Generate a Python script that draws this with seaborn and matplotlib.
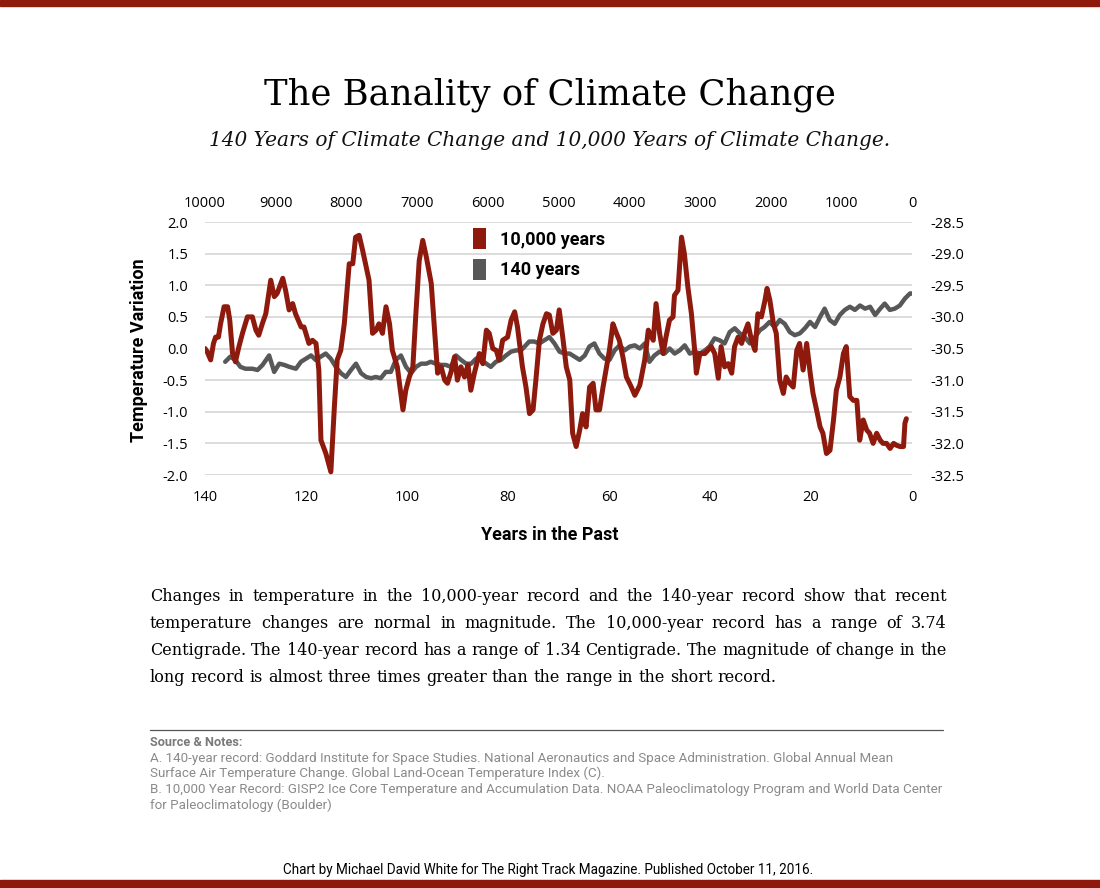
import matplotlib
matplotlib.use("Agg")
import pandas as pd
import matplotlib.pyplot as plt
import seaborn as sns
from matplotlib.patches import Patch, Rectangle
from matplotlib.lines import Line2D

# 10,000-year record (GISP2 ice core): years before present, temperature (C)
long_years = [10000, 9970, 9920, 9880, 9850, 9810, 9780, 9730, 9680, 9650, 9610, 9570, 9520, 9470, 9400,
              9330, 9280, 9240, 9190, 9140, 9070, 9020, 8980, 8900, 8860, 8810, 8760, 8720, 8640, 8600,
              8530, 8480, 8430, 8390, 8360, 8290, 8220, 8170, 8130, 8080, 8030, 7960, 7910, 7870, 7820,
              7770, 7720, 7680, 7630, 7580, 7540, 7490, 7440, 7390, 7350, 7280, 7200, 7160, 7110, 7060,
              7020, 6970, 6920, 6870, 6800, 6760, 6710, 6660, 6610, 6570, 6520, 6470, 6430, 6380, 6330,
              6280, 6240, 6190, 6120, 6070, 6020, 5980, 5930, 5880, 5840, 5790, 5720, 5670, 5620, 5580,
              5510, 5460, 5410, 5360, 5320,
              5270, 5220, 5170, 5130, 5080, 5030, 4990, 4940, 4890, 4840,
              4800, 4750, 4700, 4660, 4610, 4560, 4510, 4470, 4420, 4370,
              4320, 4280, 4230, 4180, 4140, 4090, 4040, 3970, 3920, 3850,
              3780, 3730, 3660, 3620, 3570, 3520, 3480, 3430, 3380, 3360,
              3310, 3260, 3220, 3170, 3120, 3070, 3050, 3000, 2930, 2890,
              2840, 2790, 2740, 2700, 2650, 2600, 2550, 2510, 2460, 2410,
              2370, 2320, 2270, 2220, 2180, 2130, 2080, 2050, 2010, 1960,
              1920, 1870, 1820, 1780, 1730, 1680, 1630, 1590, 1540, 1490,
              1440, 1400, 1350, 1300, 1260, 1210, 1160, 1110, 1070, 1020,
              970, 930, 880, 830, 780, 740, 690, 640, 600, 550,
              500, 450, 410, 360, 310, 260, 220, 170, 120, 100, 80]
long_temp = [-30.50, -30.55, -30.68, -30.42, -30.32, -30.32, -30.11, -29.84, -29.84, -30.05, -30.58, -30.71,
             -30.47, -30.26, -30.00, -30.00, -30.21, -30.29, -30.11, -29.95, -29.42, -29.68, -29.63, -29.39,
             -29.58, -29.89, -29.79, -29.95, -30.16, -30.16, -30.42, -30.37, -30.42, -30.84, -31.95, -32.16,
             -32.45, -31.42, -30.68, -30.53, -30.11, -29.16, -29.16, -28.74, -28.71, -28.95, -29.21, -29.42,
             -30.26, -30.21, -30.11, -30.26, -29.84, -30.11, -30.53, -30.79, -31.47, -31.16, -30.95, -30.79,
             -30.00, -29.11, -28.79, -29.05, -29.47, -30.11, -30.89, -30.79, -31.00, -31.05, -30.87, -30.63,
             -31.00, -30.79, -30.95, -30.76, -31.16, -30.89, -30.58, -30.74, -30.21, -30.26, -30.50, -30.53,
             -30.68, -30.37, -30.32, -30.05, -29.92, -30.16, -30.79, -31.11, -31.53, -31.47, -31.00,
             -30.37, -30.11, -29.95, -29.97, -30.26, -30.21, -29.89, -30.32, -30.79, -31.00,
             -31.84, -32.05, -31.79, -31.53, -31.74, -31.11, -31.05, -31.47, -31.47, -31.11,
             -30.79, -30.53, -30.11, -30.26, -30.37, -30.63, -30.95, -31.11, -31.24, -31.08,
             -30.68, -30.21, -30.37, -29.79, -30.26, -30.58, -30.32, -30.05, -30.00, -29.66,
             -29.58, -28.74, -29.00, -29.53, -29.95, -30.58, -30.89, -30.58, -30.58, -30.53,
             -30.47, -30.58, -30.97, -30.47, -30.79, -30.74, -30.89, -30.47, -30.32, -30.42,
             -30.26, -30.11, -30.37, -30.53, -29.95, -30.00, -29.74, -29.55, -29.74, -30.11,
             -30.26, -31.00, -31.21, -30.95, -31.05, -31.11, -30.53, -30.42, -30.84, -30.42,
             -30.89, -31.21, -31.47, -31.74, -31.84, -32.16, -32.11, -31.63, -31.16, -30.95,
             -30.58, -30.47, -31.26, -31.32, -31.32, -31.95, -31.63, -31.79, -31.84, -32.00,
             -31.84, -31.95, -32.00, -32.00, -32.08, -32.00, -32.03, -32.05, -32.05, -31.68, -31.61]

# 140-year record (GISS land-ocean index): years in the past, anomaly (C)
short_years = [136.0, 135.0, 134.0, 133.0, 132.0, 130.6, 129.6, 128.6, 127.3, 126.3, 125.3, 124.3, 123.3,
               122.0, 121.0, 120.0, 119.0, 118.1, 117.1, 116.1, 115.1, 114.1, 113.1, 112.1, 111.1, 110.1,
               109.1, 108.1, 107.1, 106.2, 105.2, 104.2, 103.2, 102.2, 101.2, 100.2, 99.2, 98.2, 97.2, 96.2,
               95.3, 94.3, 93.3, 92.3, 91.3, 90.3, 89.3, 88.3, 87.3, 86.3, 85.3, 84.3, 83.4, 82.4, 81.4,
               80.4, 79.4, 78.4, 77.4,
               76.7, 75.8, 74.8, 73.8, 72.8, 71.8, 70.8, 69.8, 68.8, 67.8,
               66.8, 65.8, 64.8, 63.9, 62.9, 61.9, 60.9, 59.9, 58.9, 57.9,
               56.9, 55.9, 54.9, 53.9, 52.9, 52.0, 51.0, 50.0, 49.0, 48.0,
               47.0, 46.0, 45.0, 44.0, 43.0, 42.0, 41.0, 40.1, 39.1, 38.1,
               37.1, 36.1, 35.1, 34.1, 33.1, 32.1, 31.1, 30.1, 29.2, 28.2,
               27.2, 26.2, 25.2, 24.2, 23.2, 22.2, 21.2, 20.2, 19.2, 18.2,
               17.3, 16.3, 15.3, 14.3, 13.3, 12.3, 11.3, 10.3, 9.3, 8.3,
               7.3, 6.3, 5.4, 4.4, 3.4, 2.4, 1.4, 0.4, 0.0]
short_temp = [-0.21, -0.13, -0.18, -0.29, -0.32, -0.32, -0.34, -0.26, -0.11, -0.37,
              -0.24, -0.26, -0.29, -0.32, -0.21, -0.16, -0.11, -0.18, -0.13, -0.08,
              -0.16, -0.29, -0.39, -0.45, -0.34, -0.24, -0.39, -0.45, -0.47, -0.45,
              -0.47, -0.37, -0.37, -0.18, -0.11, -0.29, -0.39, -0.29, -0.24, -0.24,
              -0.21, -0.24, -0.26, -0.26, -0.29, -0.11, -0.18, -0.24, -0.24, -0.16,
              -0.18, -0.24, -0.29, -0.21, -0.18, -0.11, -0.05, -0.03, -0.03,
              0.03, 0.11, 0.11, 0.08, 0.13, 0.18, 0.08, -0.05, -0.08, -0.08,
              -0.13, -0.18, -0.11, 0.03, 0.08, -0.08, -0.16, -0.18, -0.03, 0.05,
              -0.03, 0.03, 0.05, 0.00, 0.08, -0.21, -0.11, -0.05, -0.08, 0.00,
              -0.08, -0.03, 0.05, -0.08, -0.05, -0.08, -0.03, 0.03, 0.16, 0.13,
              0.08, 0.26, 0.32, 0.24, 0.18, 0.08, 0.18, 0.29, 0.34, 0.42,
              0.34, 0.45, 0.39, 0.26, 0.21, 0.24, 0.32, 0.42, 0.34, 0.50,
              0.63, 0.45, 0.39, 0.53, 0.61, 0.66, 0.61, 0.68, 0.63, 0.66,
              0.53, 0.63, 0.71, 0.61, 0.63, 0.68, 0.79, 0.87, 0.87]

left_ticks = [-2.0, -1.5, -1.0, -0.5, 0.0, 0.5, 1.0, 1.5, 2.0]
right_ticks = [-32.5, -32.0, -31.5, -31.0, -30.5, -30.0, -29.5, -29.0, -28.5]
bottom_ticks = [140, 120, 100, 80, 60, 40, 20, 0]
top_ticks = [10000, 9000, 8000, 7000, 6000, 5000, 4000, 3000, 2000, 1000, 0]
series_labels = ["10,000 years", "140 years"]

title = "The Banality of Climate Change"
subtitle = "140 Years of Climate Change and 10,000 Years of Climate Change."
para_lines = [
    "Changes in temperature in the 10,000-year record and the 140-year record show that recent",
    "temperature changes are normal in magnitude. The 10,000-year record has a range of 3.74",
    "Centigrade. The 140-year record has a range of 1.34 Centigrade. The magnitude of change in the",
    "long record is almost three times greater than the range in the short record.",
]
notes = [
    "A. 140-year record: Goddard Institute for Space Studies. National Aeronautics and Space Administration. Global Annual Mean",
    "Surface Air Temperature Change. Global Land-Ocean Temperature Index (C).",
    "B. 10,000 Year Record: GISP2 Ice Core Temperature and Accumulation Data. NOAA Paleoclimatology Program and World Data Center",
    "for Paleoclimatology (Boulder)",
]
footer = "Chart by Michael David White for The Right Track Magazine. Published October 11, 2016."

RED = "#8e1a0e"
GRAY = "#585858"
W, H = 1100, 888

sns.set_style("white")
plt.rcParams["axes.unicode_minus"] = False
plt.rcParams["text.color"] = "black"
plt.rcParams["axes.labelcolor"] = "black"
plt.rcParams["font.family"] = ["Open Sans", "DejaVu Sans"]

fig = plt.figure(figsize=(11, 8.88), dpi=100)
rect = [205 / W, 1 - 475 / H, 707 / W, 253 / H]

# short record: bottom / left axes
ax = fig.add_axes(rect)
short_df = pd.DataFrame({"years": short_years, "temp": short_temp})
sns.lineplot(data=short_df, x="years", y="temp", ax=ax, color=GRAY, linewidth=3.2,
             solid_joinstyle="round", solid_capstyle="round")
ax.set_xlim(140, 0)
ax.set_ylim(-2, 2)
ax.set_xticks(bottom_ticks)
ax.set_yticks(left_ticks)
ax.set_yticklabels([f"{v:.1f}" for v in left_ticks])
ax.yaxis.grid(True, color="#d9d9d9", linewidth=1.3)
ax.xaxis.grid(False)
for s in ax.spines.values():
    s.set_visible(False)
ax.tick_params(axis="both", length=0, labelsize=10.5, colors="black")
ax.tick_params(axis="y", pad=12)
ax.tick_params(axis="x", pad=11)
ax.set_ylabel("Temperature Variation", family="Roboto", fontweight="bold", fontsize=13)
ax.yaxis.set_label_coords(-0.08, 0.494)
ax.set_xlabel("Years in the Past", family="Roboto", fontweight="bold", fontsize=13)
ax.xaxis.set_label_coords(0.488, -0.2)

# long record: top / right axes, drawn on top
ax2 = fig.add_axes(rect, facecolor="none")
long_df = pd.DataFrame({"years": long_years, "temp": long_temp})
sns.lineplot(data=long_df, x="years", y="temp", ax=ax2, color=RED, linewidth=3.6,
             solid_joinstyle="round", solid_capstyle="round")
ax2.set_xlim(10000, 0)
ax2.set_ylim(-32.5, -28.5)
ax2.set_xticks(top_ticks)
ax2.set_yticks(right_ticks)
ax2.set_yticklabels([f"{v:.1f}" for v in right_ticks])
ax2.xaxis.tick_top()
ax2.yaxis.tick_right()
ax2.grid(False)
ax2.set_xlabel("")
ax2.set_ylabel("")
for s in ax2.spines.values():
    s.set_visible(False)
ax2.tick_params(axis="both", length=0, labelsize=10.5, colors="black")
ax2.tick_params(axis="y", pad=13)
ax2.tick_params(axis="x", pad=8)

handles = [Patch(facecolor=RED, edgecolor="none"), Patch(facecolor=GRAY, edgecolor="none")]
leg = ax2.legend(handles, series_labels, loc="upper left", bbox_to_anchor=(457 / W, 1 - 212 / H),
                 bbox_transform=fig.transFigure, frameon=False, handlelength=0.7, handleheight=1.4,
                 handletextpad=0.8, labelspacing=0.55, prop={"family": "Roboto", "weight": "bold", "size": 13})

# titles
fig.text(0.5, 1 - 95 / H, title, ha="center", va="center", family="DejaVu Serif", fontsize=25.5)
fig.text(0.5, 1 - 141 / H, subtitle, ha="center", va="center", family="DejaVu Serif",
         style="italic", fontsize=14.5, color="#111111")

# justified paragraph
PARA_SIZE = 11.5
fig.canvas.draw()
r = fig.canvas.get_renderer()
probe = fig.text(0, 0, "a a", family="DejaVu Serif", fontsize=PARA_SIZE)
probe2 = fig.text(0, 0, "aa", family="DejaVu Serif", fontsize=PARA_SIZE)
space_w = probe.get_window_extent(r).width - probe2.get_window_extent(r).width
probe.remove()
probe2.remove()
for i, line in enumerate(para_lines):
    words = line.split()
    y = 1 - (601 + 27 * i) / H
    texts = [fig.text(0, y, w, family="DejaVu Serif", fontsize=PARA_SIZE, va="baseline", color="black")
             for w in words]
    widths = [t.get_window_extent(r).width for t in texts]
    if i < len(para_lines) - 1:
        gap = (797 - sum(widths)) / (len(words) - 1)
    else:
        gap = space_w
    x = 150
    for t, wd in zip(texts, widths):
        t.set_x(x / W)
        x += wd + gap

# notes
fig.add_artist(Line2D([150 / W, 943 / W], [1 - 730 / H, 1 - 730 / H], color="#555555", linewidth=0.9))
fig.text(150 / W, 1 - 742 / H, "Source & Notes:", family="Roboto", fontweight="bold", fontsize=9.2,
         color="#7a7a7a", va="center")
for i, line in enumerate(notes):
    fig.text(150 / W, 1 - (758 + 15.7 * i) / H, line, family="Roboto", fontsize=9.65,
             color="#8a8a8a", va="center")
fig.text(548 / W, 1 - 870 / H, footer, ha="center", va="center", family="Roboto", fontsize=9.75,
         color="black")

# top and bottom bands
fig.add_artist(Rectangle((0, 1 - 6 / H), 1, 6 / H, transform=fig.transFigure, color=RED, zorder=5))
fig.add_artist(Rectangle((0, 0), 1, 8 / H, transform=fig.transFigure, color=RED, zorder=5))

fig.savefig("out.png", dpi=100)
